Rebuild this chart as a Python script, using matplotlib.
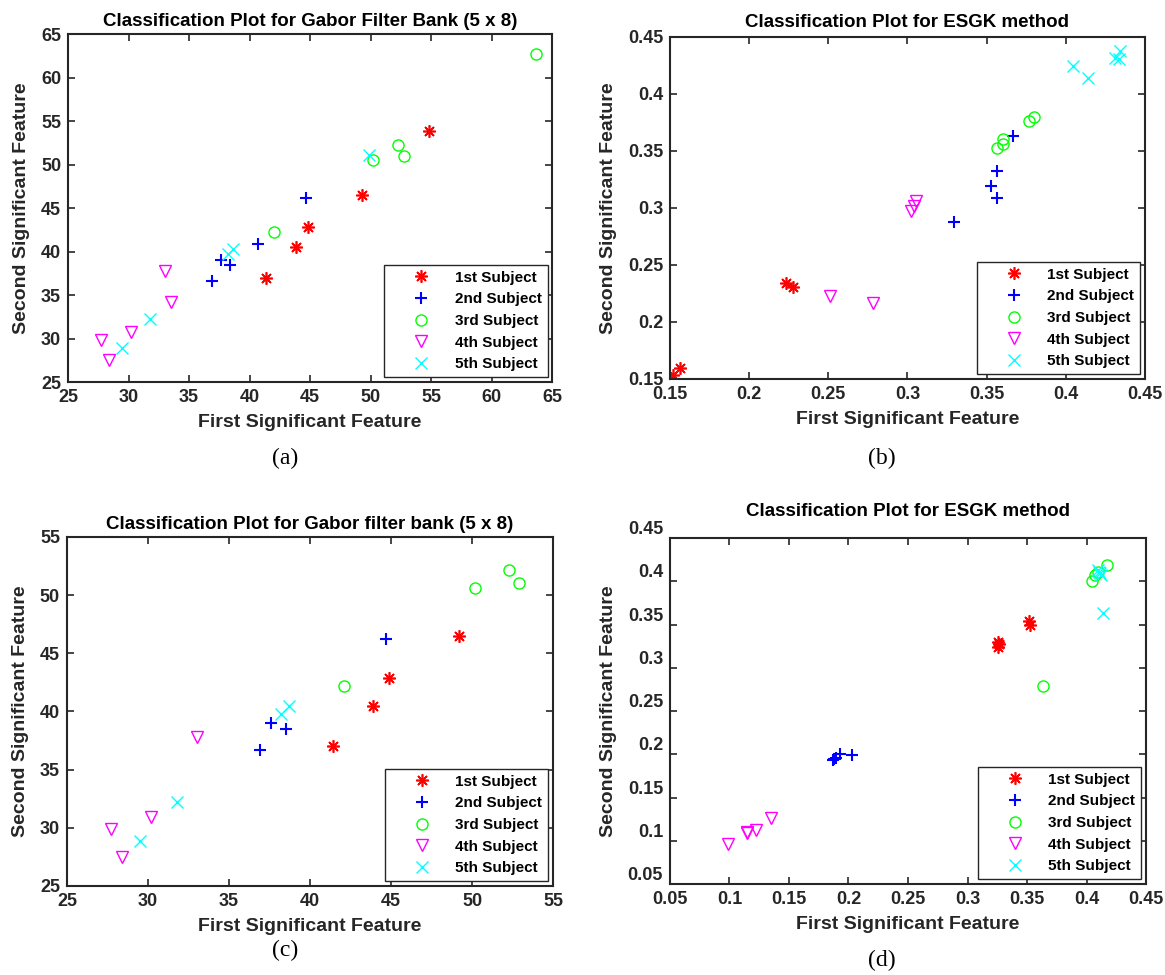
import matplotlib
matplotlib.use('Agg')
import matplotlib.pyplot as plt
from matplotlib.ticker import FormatStrFormatter

plt.rcParams['font.family'] = ['Liberation Sans', 'DejaVu Sans']

labels = ['1st Subject', '2nd Subject', '3rd Subject', '4th Subject', '5th Subject']
colors = ['#FF0000', '#0000FF', '#00FF00', '#FF00FF', '#00FFFF']
markers = [(8, 2, 0), '+', 'o', 'v', 'x']

# (a) Gabor filter bank (5 x 8)
a_x = [
    [41.4, 43.8, 44.8, 49.3, 54.8],
    [36.9, 37.6, 38.4, 40.7, 44.7],
    [42.0, 50.2, 52.3, 52.8, 63.7],
    [27.7, 28.4, 30.2, 33.0, 33.5],
    [29.5, 31.8, 38.2, 38.6, 49.9],
]
a_y = [
    [37.0, 40.5, 42.8, 46.5, 53.9],
    [36.6, 39.0, 38.4, 40.9, 46.2],
    [42.2, 50.5, 52.2, 51.0, 62.7],
    [29.8, 27.5, 30.7, 37.8, 34.2],
    [28.9, 32.2, 39.7, 40.3, 51.1],
]

# (b) ESGK method
b_x = [
    [0.1519, 0.1563, 0.2233, 0.2279],
    [0.3294, 0.3525, 0.3567, 0.3567, 0.3668],
    [0.3567, 0.3605, 0.3601, 0.3765, 0.3799],
    [0.2511, 0.2784, 0.3022, 0.3041, 0.3054],
    [0.4045, 0.4140, 0.4310, 0.4342, 0.4336],
]
b_y = [
    [0.1535, 0.1596, 0.2340, 0.2305],
    [0.2876, 0.3195, 0.3324, 0.3087, 0.3628],
    [0.3528, 0.3564, 0.3604, 0.3763, 0.3798],
    [0.2232, 0.2165, 0.2974, 0.3018, 0.3061],
    [0.4246, 0.4140, 0.4316, 0.4377, 0.4307],
]

# (c) Gabor filter bank (5 x 8)
c_x = [
    [41.4, 43.9, 44.9, 49.2],
    [36.9, 37.6, 38.5, 44.7],
    [42.1, 50.2, 52.3, 52.9],
    [27.7, 28.4, 30.2, 33.0],
    [29.5, 31.8, 38.2, 38.7],
]
c_y = [
    [37.0, 40.5, 42.9, 46.5],
    [36.7, 39.0, 38.5, 46.2],
    [42.2, 50.6, 52.2, 51.0],
    [29.9, 27.5, 30.9, 37.8],
    [28.9, 32.2, 39.8, 40.5],
]

# (d) ESGK method
d_x = [
    [0.3254, 0.3258, 0.3262, 0.3520, 0.3525],
    [0.1867, 0.1880, 0.1895, 0.1929, 0.2027],
    [0.3632, 0.4044, 0.4071, 0.4095, 0.4170],
    [0.0985, 0.1144, 0.1150, 0.1220, 0.1349],
    [0.4099, 0.4105, 0.4113, 0.4120, 0.4136],
]
d_y = [
    [0.3296, 0.3245, 0.3270, 0.3540, 0.3490],
    [0.1934, 0.1950, 0.1960, 0.2003, 0.1991],
    [0.2790, 0.4003, 0.4072, 0.4105, 0.4188],
    [0.0966, 0.1097, 0.1090, 0.1128, 0.1266],
    [0.4130, 0.4110, 0.4092, 0.4075, 0.3636],
]

fig = plt.figure(figsize=(11.65, 9.75), dpi=100)

panels = [
    ([0.0584, 0.6082, 0.4155, 0.3569], a_x, a_y, (25, 65), range(25, 70, 5),
     'Classification Plot for Gabor Filter Bank (5 x 8)', '(a)', 6),
    ([0.5751, 0.6113, 0.4077, 0.3508], b_x, b_y, (0.15, 0.45),
     [0.15, 0.2, 0.25, 0.3, 0.35, 0.4, 0.45],
     'Classification Plot for ESGK method', '(b)', 7),
    ([0.0575, 0.0913, 0.4172, 0.3580], c_x, c_y, (25, 55), range(25, 60, 5),
     'Classification Plot for Gabor filter bank (5 x 8)', '(c)', 6),
    ([0.5751, 0.0933, 0.4086, 0.3549], d_x, d_y, (0.05, 0.45),
     [0.05, 0.1, 0.15, 0.2, 0.25, 0.3, 0.35, 0.4, 0.45],
     'Classification Plot for ESGK method', '(d)', 16),
]

dark = '#262626'
captions = {'(a)': (285, 458), '(b)': (882, 458), '(c)': (285, 950), '(d)': (882, 960)}

for rect, xs, ys, lim, ticks, title, cap, tpad in panels:
    ax = fig.add_axes(rect)
    for i in range(5):
        mew = [1.2, 1.5, 1.0, 1.0, 1.0][i]
        ms = 9 if i != 2 else 8
        ax.plot(xs[i], ys[i], linestyle='none', marker=markers[i], color=colors[i],
                markersize=ms, markeredgewidth=mew, markerfacecolor='none',
                label=labels[i])
    ax.set_xlim(lim)
    ax.set_ylim(lim)
    ax.set_xticks(list(ticks))
    ax.set_yticks(list(ticks))
    ax.xaxis.set_major_formatter(FormatStrFormatter('%g'))
    ax.yaxis.set_major_formatter(FormatStrFormatter('%g'))
    ax.tick_params(direction='in', top=True, right=True, length=5, width=1.2,
                   colors=dark, labelsize=13, pad=5)
    for lbl in ax.get_xticklabels() + ax.get_yticklabels():
        lbl.set_fontweight('bold')
    for s in ax.spines.values():
        s.set_linewidth(1.5)
        s.set_color(dark)
    ax.set_title(title, fontsize=13.5, fontweight='bold', color='black', pad=tpad)
    ax.set_xlabel('First Significant Feature', fontsize=14, fontweight='bold',
                  color=dark, labelpad=6)
    ax.set_ylabel('Second Significant Feature', fontsize=14, fontweight='bold',
                  color=dark, labelpad=8)
    leg = ax.legend(loc='lower right', frameon=True, fancybox=False,
                    edgecolor=dark, framealpha=1, handlelength=4, handletextpad=0.2,
                    labelspacing=0.5, borderpad=0.4, borderaxespad=0.3,
                    prop={'weight': 'bold', 'size': 11})
    leg.get_frame().set_linewidth(1.0)
    if cap == '(d)':
        plt.setp(ax.get_yticklabels(), va='bottom')
    cx, cy = captions[cap]
    fig.text(cx / 1165, 1 - cy / 975, cap, ha='center', va='center',
             fontsize=17, family='Liberation Serif')

fig.savefig('out.png', dpi=100)
